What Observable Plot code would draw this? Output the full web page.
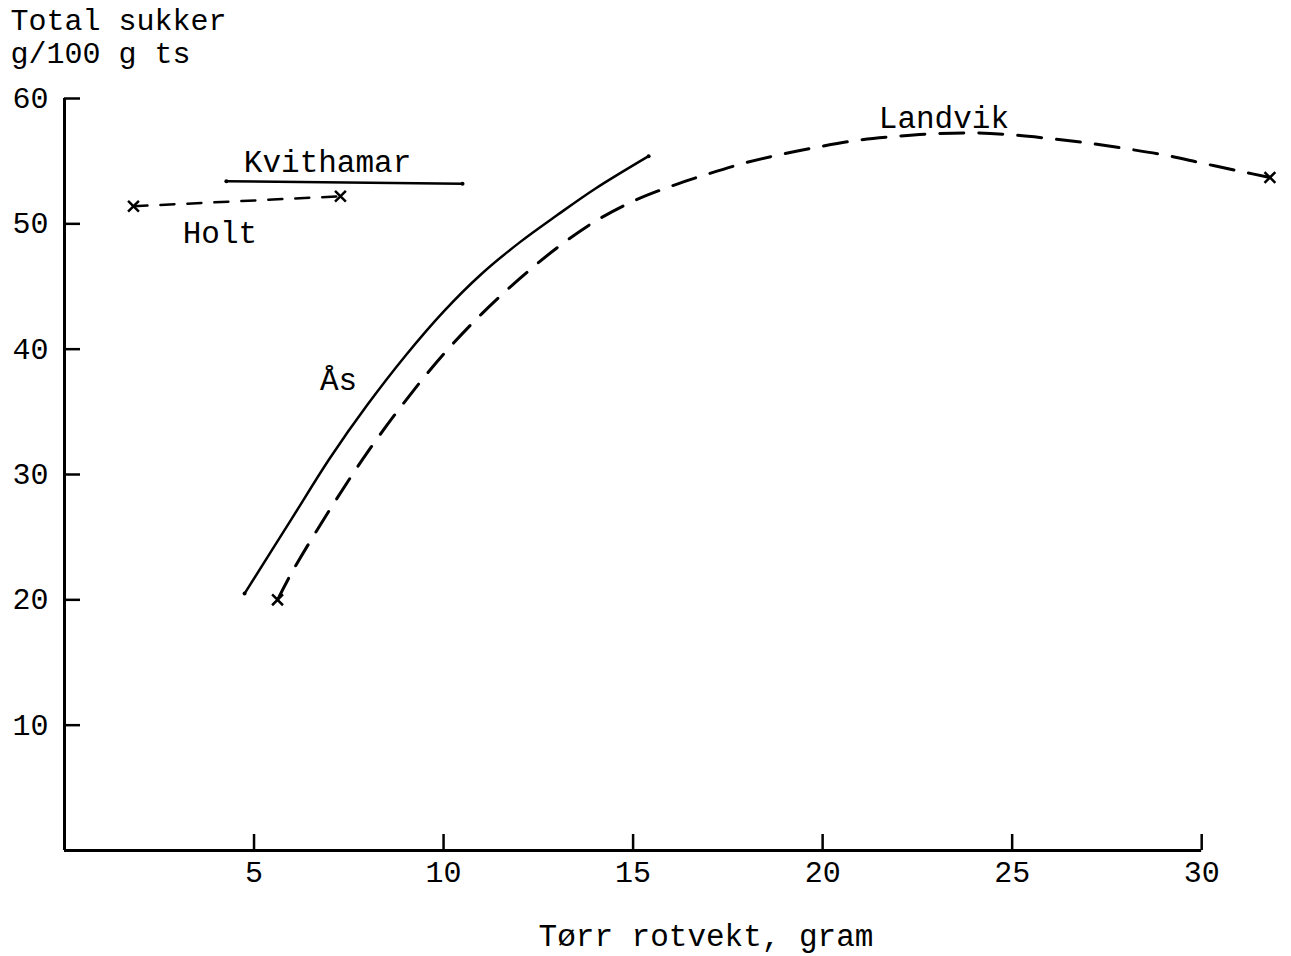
<!DOCTYPE html>
<html><head><meta charset="utf-8">
<script src="https://cdn.jsdelivr.net/npm/d3@7"></script>
<script src="https://cdn.jsdelivr.net/npm/@observablehq/plot@0.6"></script>
<style>body{margin:0;background:#fff;}</style>
</head><body><div id="chart"></div>
<script>
// Data
const xTicks = [5, 10, 15, 20, 25, 30];
const yTicks = [10, 20, 30, 40, 50, 60];

const asX = [4.75, 6, 7, 8, 9, 10, 11, 12, 13, 14, 15.41];
const asY = [20.5, 26.5, 31.3, 35.6, 39.5, 43.0, 46.0, 48.5, 50.7, 52.8, 55.4];

const landvikX = [5.62, 6, 7, 8, 9, 10, 11, 12, 13, 14, 15, 16, 17, 18, 19, 20, 21, 22, 23, 24, 25, 26, 27, 28, 29, 30, 31, 31.8];
const landvikY = [20.0, 22.2, 27.2, 31.8, 35.9, 39.6, 42.8, 45.6, 48.1, 50.2, 51.8, 53.0, 54.0, 54.9, 55.6, 56.2, 56.7, 57.0, 57.2, 57.25, 57.1, 56.8, 56.45, 56.0, 55.5, 54.85, 54.2, 53.7];

const holtX = [1.82, 7.28];
const holtY = [51.4, 52.2];

const kvithamarX = [4.27, 10.5];
const kvithamarY = [53.4, 53.2];

const labelText = ["Kvithamar", "Holt", "Ås", "Landvik"];
const labelX = [6.94, 4.1, 7.23, 23.2];
const labelY = [54.9, 49.3, 37.5, 58.4];

const yTitle = "Total sukker\ng/100 g ts";
const xTitle = "Tørr rotvekt, gram";

const zip = (xs, ys) => xs.map((x, i) => ({x, y: ys[i]}));
const asData = zip(asX, asY);
const landvikData = zip(landvikX, landvikY);
const holtData = zip(holtX, holtY);
const kvData = zip(kvithamarX, kvithamarY);
const labels = labelText.map((t, i) => ({t, x: labelX[i], y: labelY[i]}));
const crossEnds = [landvikData[0], landvikData[landvikData.length - 1], holtData[0], holtData[1]];
const dotEnds = [asData[0], asData[asData.length - 1], kvData[0], kvData[1]];

const font = "Liberation Mono, Courier New, monospace";
const W = 1291, H = 956, ML = 64, MR = 14, MT = 98, MB = 106;
const plotW = W - ML - MR, plotH = H - MT - MB, tickLen = 16;

const chart = Plot.plot({
  width: W,
  height: H,
  marginLeft: ML,
  marginRight: MR,
  marginTop: MT,
  marginBottom: MB,
  style: {fontFamily: font, fontSize: "30px", color: "#000", background: "#fff"},
  x: {domain: [0, 32]},
  y: {domain: [0, 60]},
  marks: [
    Plot.axisX({ticks: xTicks, tickSize: 0, tickPadding: 10, label: null, fontSize: 30}),
    Plot.axisY({ticks: yTicks, tickSize: 0, tickPadding: 16, label: null, fontSize: 30}),
    Plot.ruleX([0], {y1: 0, y2: 60, strokeWidth: 3, stroke: "#000"}),
    Plot.ruleY([0], {x1: 0, x2: 30, strokeWidth: 3, stroke: "#000"}),
    Plot.tickY(yTicks, {y: d => d, insetRight: plotW - tickLen, strokeWidth: 2.5, stroke: "#000"}),
    Plot.tickX(xTicks, {x: d => d, insetTop: plotH - tickLen, strokeWidth: 2.5, stroke: "#000"}),
    Plot.line(asData, {x: "x", y: "y", curve: "catmull-rom", stroke: "#000", strokeWidth: 2.5}),
    Plot.line(landvikData, {x: "x", y: "y", curve: "catmull-rom", stroke: "#000", strokeWidth: 3, strokeDasharray: "24,15"}),
    Plot.line(holtData, {x: "x", y: "y", stroke: "#000", strokeWidth: 2.5, strokeDasharray: "14,13"}),
    Plot.line(kvData, {x: "x", y: "y", stroke: "#000", strokeWidth: 2.5}),
    Plot.dot(crossEnds, {x: "x", y: "y", symbol: "times", r: 5, stroke: "#000", strokeWidth: 2.5}),
    Plot.dot(dotEnds, {x: "x", y: "y", r: 2, fill: "#000"}),
    Plot.text(labels, {x: "x", y: "y", text: "t", fontSize: 31, fill: "#000"}),
    Plot.text([yTitle], {frameAnchor: "top-left", dx: -54, dy: -92, textAnchor: "start", lineAnchor: "top", lineHeight: 1.1, fontSize: 30, fill: "#000"}),
    Plot.text([xTitle], {frameAnchor: "bottom", dx: 35, dy: 86, lineAnchor: "middle", fontSize: 31, fill: "#000"})
  ]
});
document.getElementById("chart").appendChild(chart);
</script>
</body></html>
